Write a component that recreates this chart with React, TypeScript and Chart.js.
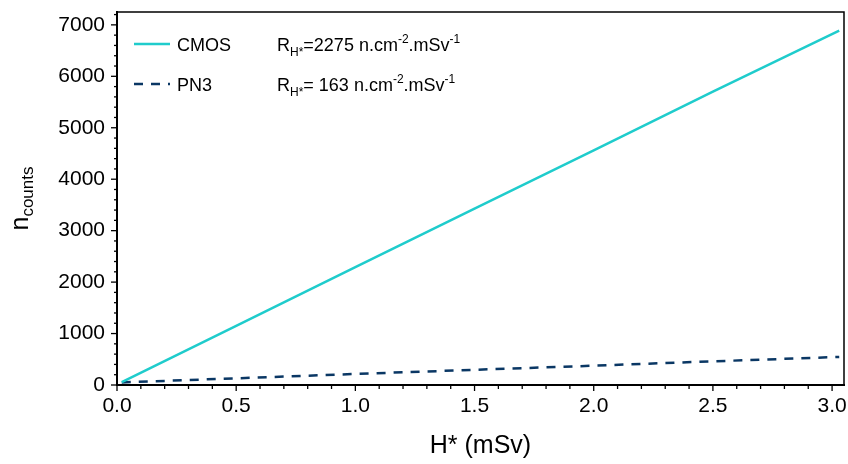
import React, { useEffect, useRef } from "react";
import { Chart, registerables } from "chart.js";

Chart.register(...registerables);

const hValues = [0.02, 0.5, 1.0, 1.5, 2.0, 2.5, 3.03];
const cmosCounts = [55, 1150, 2290, 3430, 4560, 5700, 6890];
const pn3Counts = [50, 130, 215, 295, 375, 460, 545];
const seriesNames = ["CMOS", "PN3"];
const rateValues = ["=2275", "= 163"];
const xTickValues = [0, 0.5, 1.0, 1.5, 2.0, 2.5, 3.0];
const yTickValues = [0, 1000, 2000, 3000, 4000, 5000, 6000, 7000];
const xTitle = "H* (mSv)";

const CYAN = "#1fcccc";
const NAVY = "#0a3764";
const FONT = "'Liberation Sans', Arial, sans-serif";

const decorPlugin = {
  id: "decor",
  afterDraw(chart: any) {
    const ctx = chart.ctx as CanvasRenderingContext2D;
    const { left, right, top, bottom } = chart.chartArea;
    const xs = chart.scales.x;
    const ys = chart.scales.y;
    ctx.save();
    // frame top/right
    ctx.strokeStyle = "#000";
    ctx.lineWidth = 1.5;
    ctx.beginPath();
    ctx.moveTo(left, top);
    ctx.lineTo(right, top);
    ctx.lineTo(right, bottom);
    ctx.stroke();
    // ticks
    ctx.lineWidth = 1.3;
    for (let i = 0; i <= 30; i++) {
      const v = i / 10;
      const px = xs.getPixelForValue(v);
      const major = i % 5 === 0;
      ctx.beginPath();
      ctx.moveTo(px, bottom);
      ctx.lineTo(px, bottom + (major ? 6 : 4));
      ctx.stroke();
    }
    for (let i = 0; i <= 36; i++) {
      const v = i * 200;
      const py = ys.getPixelForValue(v);
      const major = v % 1000 === 0;
      ctx.beginPath();
      ctx.moveTo(left, py);
      ctx.lineTo(left - (major ? 6 : 3), py);
      ctx.stroke();
    }
    // x title
    ctx.fillStyle = "#000";
    ctx.font = `25px ${FONT}`;
    ctx.textAlign = "center";
    ctx.textBaseline = "middle";
    ctx.fillText(xTitle, (left + right) / 2, 446);
    // y title with subscript
    ctx.save();
    ctx.translate(20, (top + bottom) / 2);
    ctx.rotate(-Math.PI / 2);
    ctx.textAlign = "left";
    ctx.textBaseline = "alphabetic";
    ctx.font = `25px ${FONT}`;
    const nW = ctx.measureText("n").width;
    ctx.font = `17px ${FONT}`;
    const cW = ctx.measureText("counts").width;
    const startX = -(nW + cW) / 2;
    ctx.font = `25px ${FONT}`;
    ctx.fillText("n", startX, 8);
    ctx.font = `17px ${FONT}`;
    ctx.fillText("counts", startX + nW, 13);
    ctx.restore();
    // legend
    const rows = [44, 84];
    rows.forEach((yy, i) => {
      ctx.strokeStyle = i === 0 ? CYAN : NAVY;
      ctx.lineWidth = 2.5;
      ctx.setLineDash(i === 0 ? [] : [9, 8]);
      ctx.beginPath();
      ctx.moveTo(134, yy);
      ctx.lineTo(170, yy);
      ctx.stroke();
      ctx.setLineDash([]);
      ctx.fillStyle = "#000";
      ctx.textAlign = "left";
      ctx.textBaseline = "alphabetic";
      const base = yy + 6.5;
      ctx.font = `18px ${FONT}`;
      ctx.fillText(seriesNames[i], 177, base);
      let x = 277;
      const put = (t: string, size: number, dy: number) => {
        ctx.font = `${size}px ${FONT}`;
        ctx.fillText(t, x, base + dy);
        x += ctx.measureText(t).width;
      };
      put("R", 18, 0);
      put("H*", 12, 5);
      put(rateValues[i] + " n.cm", 18, 0);
      put("-2", 12, -8);
      put(".mSv", 18, 0);
      put("-1", 12, -8);
    });
    ctx.restore();
  },
};

export default function App() {
  const ref = useRef<HTMLCanvasElement>(null);
  useEffect(() => {
    document.body.style.margin = "0";
    const chart = new Chart(ref.current!, {
      type: "line",
      data: {
        datasets: [
          {
            label: seriesNames[0],
            data: hValues.map((x, i) => ({ x, y: cmosCounts[i] })),
            borderColor: CYAN,
            borderWidth: 2.5,
            pointRadius: 0,
            tension: 0,
          },
          {
            label: seriesNames[1],
            data: hValues.map((x, i) => ({ x, y: pn3Counts[i] })),
            borderColor: NAVY,
            borderWidth: 2.5,
            borderDash: [9, 8],
            pointRadius: 0,
            tension: 0,
          },
        ],
      },
      options: {
        animation: false,
        responsive: false,
        layout: { padding: { top: 12, right: 4, left: 0, bottom: 0 } },
        plugins: { legend: { display: false }, tooltip: { enabled: false } },
        scales: {
          x: {
            type: "linear",
            min: 0,
            max: 3.05,
            afterBuildTicks: (s: any) => {
              s.ticks = xTickValues.map((value) => ({ value }));
            },
            afterFit: (s: any) => {
              s.height = 79;
              s.paddingRight = 0;
              s.paddingLeft = 0;
            },
            ticks: {
              autoSkip: false,
              maxRotation: 0,
              padding: 9,
              color: "#000",
              font: { size: 21, family: FONT },
              callback: (v: any) => Number(v).toFixed(1),
            },
            grid: { display: false, drawTicks: false },
            border: { display: true, color: "#000", width: 2 },
          },
          y: {
            type: "linear",
            min: 0,
            max: 7250,
            afterBuildTicks: (s: any) => {
              s.ticks = yTickValues.map((value) => ({ value }));
            },
            afterFit: (s: any) => {
              s.width = 117;
              s.paddingTop = 0;
              s.paddingBottom = 0;
            },
            ticks: {
              autoSkip: false,
              padding: 12,
              color: "#000",
              font: { size: 21, family: FONT },
              callback: (v: any) => String(v),
            },
            grid: { display: false, drawTicks: false },
            border: { display: true, color: "#000", width: 2 },
          },
        },
      },
      plugins: [decorPlugin],
    });
    return () => chart.destroy();
  }, []);
  return (
    <div style={{ width: 848, height: 464 }}>
      <canvas ref={ref} width={848} height={464} style={{ display: "block" }} />
    </div>
  );
}
